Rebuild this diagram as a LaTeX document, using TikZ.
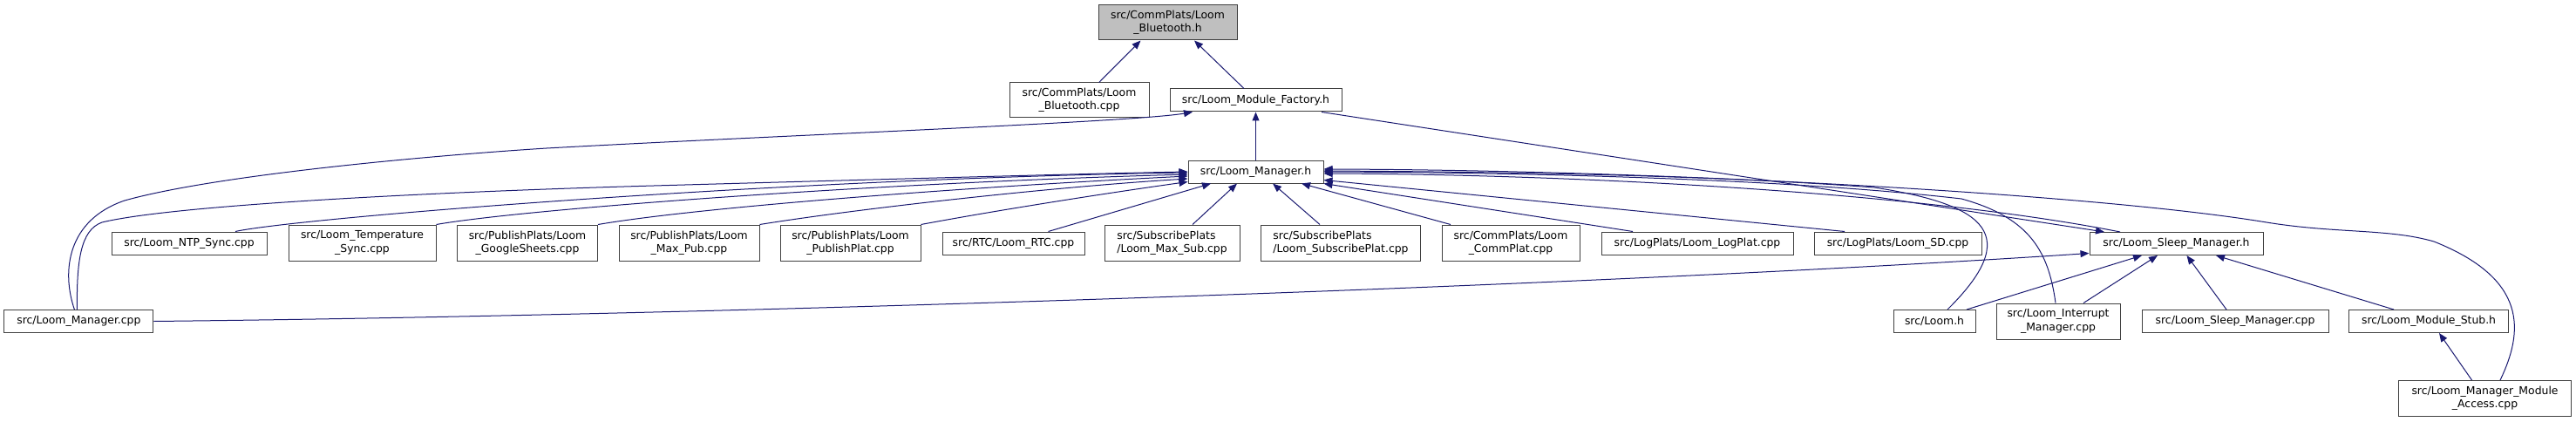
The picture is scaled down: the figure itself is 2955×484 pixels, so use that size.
\documentclass[tikz,border=0pt]{standalone}
\usepackage{fontspec}
\setsansfont{DejaVu Sans}
\usetikzlibrary{arrows.meta}
\definecolor{cnavy}{HTML}{191970}
\definecolor{cdark}{HTML}{404040}
\definecolor{cgrey}{HTML}{BFBFBF}
\tikzset{
  every picture/.style={font=\sffamily\fontsize{12.4}{15.3}\selectfont, line width=1pt},
  file/.style={draw=cdark, fill=white, align=center, inner sep=0pt, minimum width=#1, minimum height=26},
  file/.default=150,
  tall/.style={file=#1, minimum height=41},
  dep/.style={-{Triangle[length=10pt, width=8pt]}, draw=cnavy, line width=1pt},
}

\begin{document}
\begin{tikzpicture}[x=1pt, y=-1pt]
  \useasboundingbox (0,0) rectangle (2955,484);
  \node[file=159, minimum height=40, fill=cgrey] (bth) at (1339.5,26) {src/CommPlats/Loom\\\_Bluetooth.h};
  \node[file=160, minimum height=40] (btcpp) at (1238,115) {src/CommPlats/Loom\\\_Bluetooth.cpp};
  \node[file=197] (factory) at (1440.5,115) {src/Loom\_Module\_Factory.h};
  \node[file=155] (mgrh) at (1440.5,197) {src/Loom\_Manager.h};
  \node[file=178] (ntp) at (217,279) {src/Loom\_NTP\_Sync.cpp};
  \node[tall=169] (tempsync) at (415.5,278.5) {src/Loom\_Temperature\\\_Sync.cpp};
  \node[tall=161] (gsheets) at (605,278.5) {src/PublishPlats/Loom\\\_GoogleSheets.cpp};
  \node[tall=161] (maxpub) at (790.5,278.5) {src/PublishPlats/Loom\\\_Max\_Pub.cpp};
  \node[tall=161] (pubplat) at (975.5,278.5) {src/PublishPlats/Loom\\\_PublishPlat.cpp};
  \node[file=163] (rtc) at (1162.5,279) {src/RTC/Loom\_RTC.cpp};
  \node[tall=155, align=left] (maxsub) at (1344.5,278.5) {src/SubscribePlats\\/Loom\_Max\_Sub.cpp};
  \node[tall=183, align=left] (subplat) at (1538,278.5) {src/SubscribePlats\\/Loom\_SubscribePlat.cpp};
  \node[tall=158] (commplat) at (1733,278.5) {src/CommPlats/Loom\\\_CommPlat.cpp};
  \node[file=220] (logplat) at (1947,279) {src/LogPlats/Loom\_LogPlat.cpp};
  \node[file=192] (sdcard) at (2177,279) {src/LogPlats/Loom\_SD.cpp};
  \node[file=199] (sleeph) at (2496.5,279.5) {src/Loom\_Sleep\_Manager.h};
  \node[file=171] (mcpp) at (90.4,368.5) {src/Loom\_Manager.cpp};
  \node[file=94] (loomh) at (2219,368.5) {src/Loom.h};
  \node[tall=142] (intr) at (2361,368.5) {src/Loom\_Interrupt\\\_Manager.cpp};
  \node[file=214] (sleepcpp) at (2564,368.5) {src/Loom\_Sleep\_Manager.cpp};
  \node[file=183] (stub) at (2786,368.5) {src/Loom\_Module\_Stub.h};
  \node[tall=198] (access) at (2850.5,457) {src/Loom\_Manager\_Module\\\_Access.cpp};

  \draw[dep] ([xshift=22.7]btcpp.north) -- ([xshift=-31]bth.south);
  \draw[dep] ([xshift=-13.5]factory.north) -- ([xshift=30.5]bth.south);
  \draw[dep] (mgrh) -- (factory);
  \draw[dep] ([xshift=-5]mcpp.north) .. controls (70,310) and (78,252) .. (143,230)
    .. controls (250,200) and (500,178) .. (627,170) .. controls (900,155) and (1300,140) .. ([xshift=-72.5]factory.south);
  \draw[dep] ([xshift=-2]mcpp.north) .. controls (88,300) and (92,264) .. (117,255)
    .. controls (200,235) and (500,220) .. (750,213) .. controls (1000,206) and (1250,199) .. (mgrh.west);
  \draw[dep] (mcpp.east) .. controls (800,362) and (1800,330) .. ([yshift=-11]sleeph.west);
  \draw[dep] ([xshift=53]ntp.north) .. controls (340,250) and (900,205) .. ([yshift=-1]mgrh.west);
  \draw[dep] (tempsync.north east) .. controls (600,240) and (1000,210) .. ([yshift=-3]mgrh.west);
  \draw[dep] (gsheets.north east) .. controls (800,238) and (1100,215) .. ([yshift=-5]mgrh.west);
  \draw[dep] (maxpub.north east) .. controls (980,240) and (1200,215) .. ([yshift=-8]mgrh.west);
  \draw[dep] (pubplat.north east) .. controls (1150,240) and (1280,220) .. ([yshift=2]mgrh.south west);
  \draw[dep] ([xshift=40]rtc.north) -- ([xshift=-51.5]mgrh.south);
  \draw[dep] ([xshift=23.5]maxsub.north) -- ([xshift=-21.5]mgrh.south);
  \draw[dep] ([xshift=-24]subplat.north) -- ([xshift=19.5]mgrh.south);
  \draw[dep] ([xshift=-69]commplat.north) -- ([xshift=52.5]mgrh.south);
  \draw[dep] ([xshift=-74]logplat.north) -- (mgrh.south east);
  \draw[dep] ([xshift=-61]sdcard.north) -- ([yshift=4]mgrh.south east);
  \draw[dep] ([xshift=-64.5]sleeph.north) .. controls (2200,220) and (1800,200) .. ([yshift=-2]mgrh.east);
  \draw[dep] ([xshift=75.5]factory.south) -- ([xshift=-82.5]sleeph.north);
  \draw[dep] ([xshift=15]loomh.north) .. controls (2320,270) and (2280,235) .. (2150,215)
    .. controls (1950,200) and (1700,197) .. ([yshift=1]mgrh.east);
  \draw[dep] ([xshift=-3]intr.north) .. controls (2350,290) and (2330,250) .. (2250,228)
    .. controls (2050,205) and (1750,198) .. (mgrh.east);
  \draw[dep] ([xshift=17.5]access.north) .. controls (2895,380) and (2900,320) .. (2792,277)
    .. controls (2740,262) and (2680,268) .. (2600,255) .. controls (2400,222) and (1900,195) .. ([yshift=3]mgrh.east);
  \draw[dep] ([xshift=37]loomh.north) -- ([xshift=-39.5]sleeph.south);
  \draw[dep] ([xshift=29]intr.north) -- ([xshift=-21.5]sleeph.south);
  \draw[dep] ([xshift=-10]sleepcpp.north) -- ([xshift=12]sleeph.south);
  \draw[dep] ([xshift=-40]stub.north) -- ([xshift=45.5]sleeph.south);
  \draw[dep] ([xshift=-15]access.north) -- ([xshift=12]stub.south);
\end{tikzpicture}
\end{document}
